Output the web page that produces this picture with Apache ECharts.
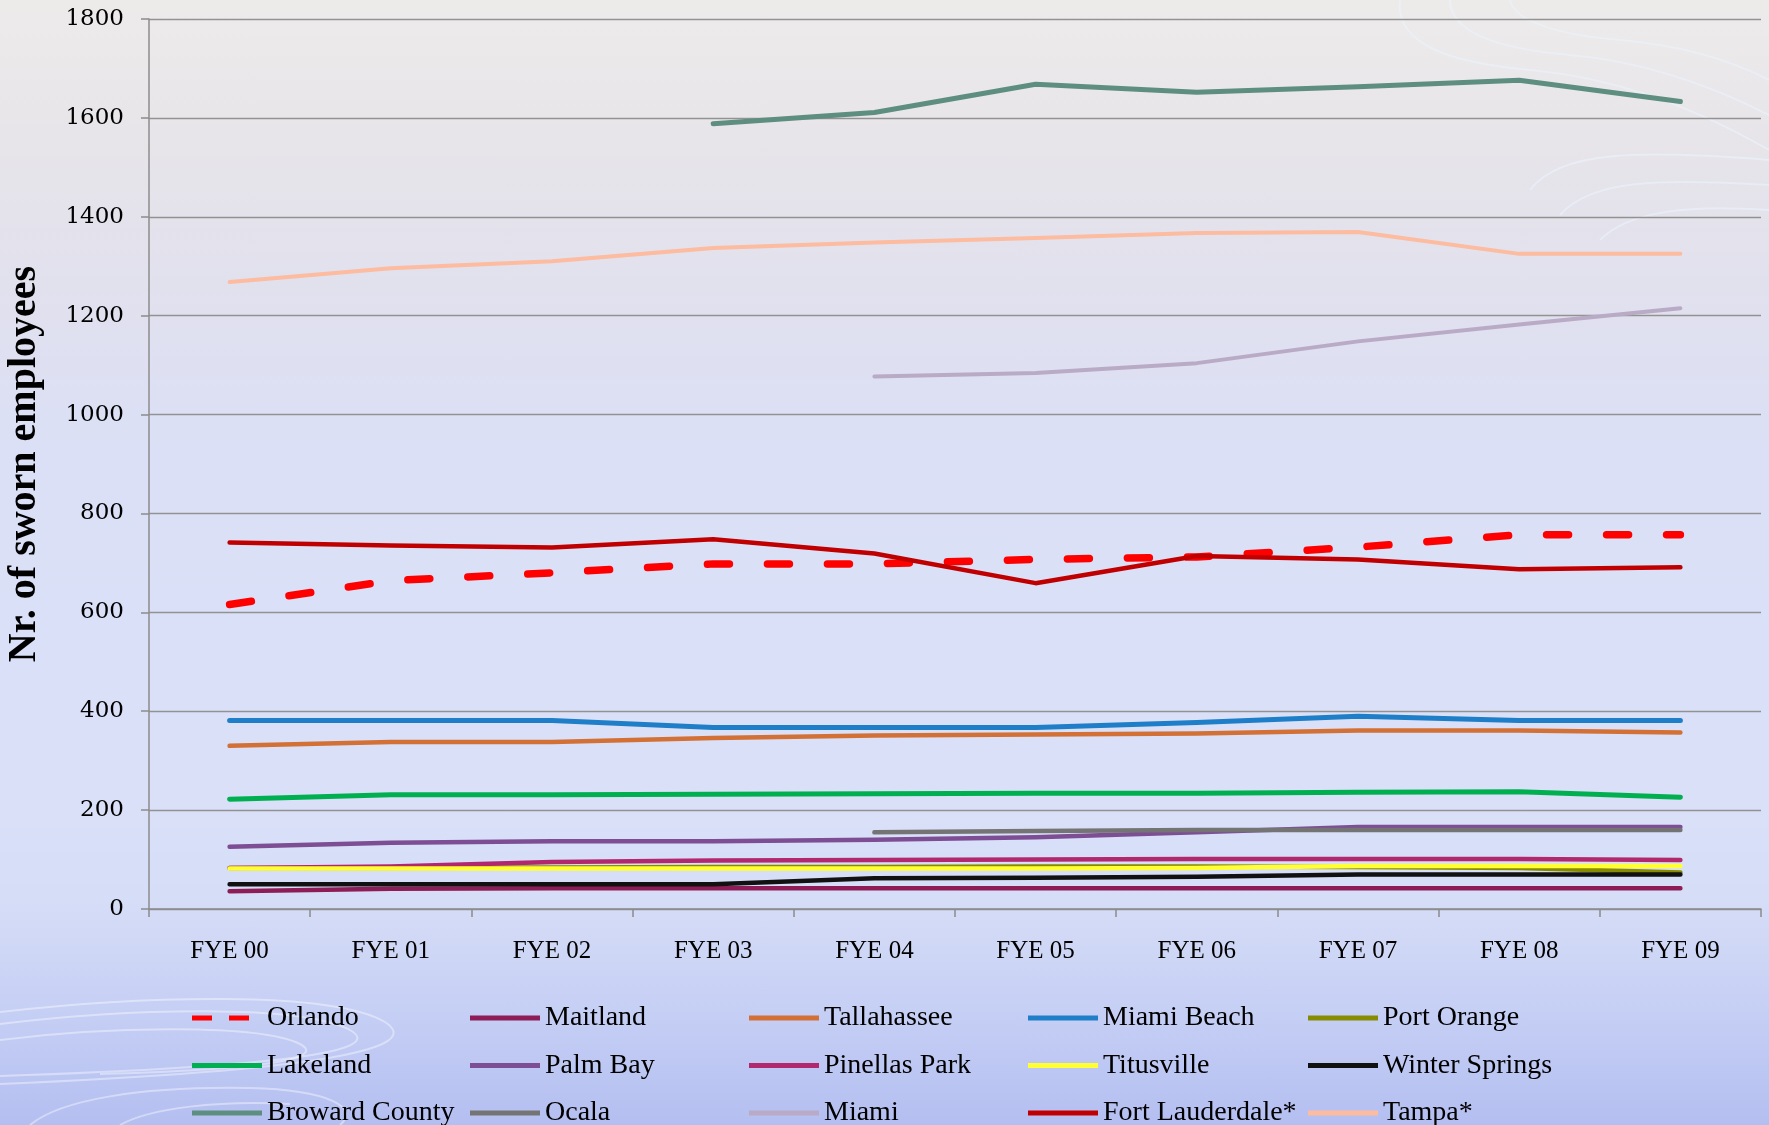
<!DOCTYPE html>
<html>
<head>
<meta charset="utf-8">
<script src="https://cdn.jsdelivr.net/npm/echarts@6.0.0/dist/echarts.min.js"></script>
<style>
  html, body { margin: 0; padding: 0; }
  body {
    width: 1769px; height: 1125px; overflow: hidden;
    background: linear-gradient(to bottom, #edebea 0%, #e7e5e9 12%, #e0e0ef 28%, #dbe0f6 40%, #d9e0f8 72%, #d6ddf7 80%, #c9d2f5 88%, #b4bff1 100%);
  }
  #chart { width: 1769px; height: 1125px; }
</style>
</head>
<body>
<div id="chart"></div>
<script>
const categories = ['FYE 00','FYE 01','FYE 02','FYE 03','FYE 04','FYE 05','FYE 06','FYE 07','FYE 08','FYE 09'];
const yTicks = { min: 0, max: 1800, interval: 200 };

const orlando        = [616, 664, 680, 698, 698, 707, 712, 732, 757, 757];
const maitland       = [36, 41, 42, 42, 42, 42, 42, 42, 42, 42];
const tallahassee    = [330, 338, 338, 346, 351, 353, 355, 361, 361, 357];
const miamiBeach     = [381, 381, 381, 367, 367, 367, 377, 390, 381, 381];
const portOrange     = [83, 83, 84, 85, 85, 86, 86, 85, 83, 74];
const lakeland       = [222, 231, 231, 232, 233, 234, 234, 236, 237, 226];
const palmBay        = [126, 134, 137, 137, 140, 145, 155, 166, 166, 166];
const pinellasPark   = [83, 86, 95, 98, 99, 100, 101, 101, 101, 99];
const titusville     = [82, 82, 82, 82, 82, 82, 83, 87, 87, 87];
const winterSprings  = [50, 50, 50, 50, 62, 63, 65, 70, 70, 70];
const browardCounty  = [null, null, null, 1588, 1611, 1668, 1652, 1663, 1676, 1633];
const ocala          = [null, null, null, null, 155, 158, 160, 160, 160, 160];
const miami          = [null, null, null, null, 1077, 1084, 1104, 1148, 1182, 1215];
const fortLauderdale = [741, 735, 731, 748, 719, 659, 714, 707, 687, 691];
const tampa          = [1268, 1296, 1310, 1337, 1348, 1357, 1367, 1369, 1325, 1325];

const seriesDefs = [
  { name: 'Orlando', data: orlando, color: '#ff0000', width: 7.5, dash: [22, 38] },
  { name: 'Maitland', data: maitland, color: '#8e1d57', width: 4.5 },
  { name: 'Tallahassee', data: tallahassee, color: '#d37035', width: 4.5 },
  { name: 'Miami Beach', data: miamiBeach, color: '#1f7ec8', width: 5 },
  { name: 'Port Orange', data: portOrange, color: '#868b00', width: 4.5 },
  { name: 'Lakeland', data: lakeland, color: '#00b050', width: 5 },
  { name: 'Palm Bay', data: palmBay, color: '#7d4e94', width: 4.5 },
  { name: 'Pinellas Park', data: pinellasPark, color: '#b1286f', width: 4.5 },
  { name: 'Titusville', data: titusville, color: '#ffff33', width: 4.5 },
  { name: 'Winter Springs', data: winterSprings, color: '#111111', width: 4.5 },
  { name: 'Broward County', data: browardCounty, color: '#5e8e80', width: 5 },
  { name: 'Ocala', data: ocala, color: '#747474', width: 4.5 },
  { name: 'Miami', data: miami, color: '#b9aac6', width: 4 },
  { name: 'Fort Lauderdale*', data: fortLauderdale, color: '#c00000', width: 4.5 },
  { name: 'Tampa*', data: tampa, color: '#fdbba0', width: 4 }
];

const series = seriesDefs.map(d => ({
  name: d.name,
  type: 'line',
  data: d.data,
  symbol: 'none',
  showSymbol: false,
  connectNulls: false,
  color: d.color,
  itemStyle: { color: d.color },
  lineStyle: { color: d.color, width: d.width, type: d.dash || 'solid', cap: 'round', join: 'round' },
  emphasis: { disabled: true },
  animation: false
}));

const solidIcon = 'path://M0,0H70V5H0Z';
const dashIcon = 'path://M0,0H20V5H0Z M37,0H57V5H37Z M70,0L70,0.001L69.999,0Z';

const colLefts = [192, 470, 749, 1028, 1308];
const legends = [];
for (let c = 0; c < 5; c++) {
  const items = [];
  for (let r = 0; r < 3; r++) {
    const d = seriesDefs[r * 5 + c];
    items.push({ name: d.name, icon: d.dash ? dashIcon : solidIcon, itemStyle: { color: d.color, borderWidth: 0 } });
  }
  legends.push({
    orient: 'vertical',
    left: colLefts[c],
    top: 1004,
    height: 200,
    itemWidth: 70,
    itemHeight: 5,
    itemGap: 19.5,
    selectedMode: false,
    padding: 0,
    textStyle: { fontFamily: 'Liberation Serif', fontSize: 28, color: '#000', lineHeight: 26 },
    data: items
  });
}

// decorative background swirls (cubic segments: x1,y1,cx1,cy1,cx2,cy2,x2,y2)
const swirlSegments = [
  [0,1012, 140,996, 330,990, 385,1022], [385,1022, 425,1048, 330,1070, 0,1084],
  [0,1024, 130,1008, 300,1004, 350,1030], [350,1030, 385,1050, 300,1066, 0,1076],
  [0,1040, 110,1026, 260,1024, 300,1044], [300,1044, 330,1060, 250,1070, 100,1074],
  [30,1125, 60,1100, 140,1086, 250,1088], [250,1088, 330,1090, 360,1108, 340,1125],
  [120,1125, 150,1108, 220,1100, 290,1104],
  [1400,0, 1395,40, 1440,62, 1530,70], [1530,70, 1620,78, 1700,110, 1769,150],
  [1450,0, 1450,30, 1490,48, 1570,55], [1570,55, 1650,62, 1720,90, 1769,115],
  [1510,0, 1515,22, 1560,35, 1620,40], [1620,40, 1690,46, 1740,65, 1769,80],
  [1530,190, 1560,150, 1640,150, 1769,160],
  [1560,215, 1590,180, 1660,178, 1769,185],
  [1600,240, 1630,210, 1690,205, 1769,210]
];
const deco = swirlSegments.map(s => ({
  type: 'bezierCurve', silent: true, z: -1,
  shape: { x1: s[0], y1: s[1], cpx1: s[2], cpy1: s[3], cpx2: s[4], cpy2: s[5], x2: s[6], y2: s[7] },
  style: { fill: null, stroke: s[1] > 900 || s[7] > 900 ? 'rgba(255,255,255,0.4)' : 'rgba(235,245,255,0.5)', lineWidth: 2 }
}));

const chart = echarts.init(document.getElementById('chart'), null, { renderer: 'canvas' });
chart.setOption({
  backgroundColor: 'transparent',
  animation: false,
  graphic: { elements: deco },
  grid: { left: 149, right: 8, top: 19, bottom: 216, containLabel: false, outerBoundsMode: 'none' },
  legend: legends,
  xAxis: {
    type: 'category',
    data: categories,
    boundaryGap: true,
    axisLine: { lineStyle: { color: '#8c8c8c', width: 1.5 } },
    axisTick: { show: true, length: 8, lineStyle: { color: '#8c8c8c', width: 1.5 } },
    axisLabel: { margin: 30, fontFamily: 'Liberation Serif', fontSize: 25, color: '#000' }
  },
  yAxis: {
    type: 'value',
    min: yTicks.min, max: yTicks.max, interval: yTicks.interval,
    name: 'Nr. of sworn employees',
    nameLocation: 'middle',
    nameGap: 104,
    nameRotate: 90,
    nameTextStyle: { fontFamily: 'Liberation Serif', fontWeight: 'bold', fontSize: 40, color: '#000' },
    axisLine: { show: true, lineStyle: { color: '#8c8c8c', width: 1.5 } },
    axisTick: { show: true, length: 8, lineStyle: { color: '#8c8c8c', width: 1.5 } },
    splitLine: { show: true, lineStyle: { color: '#929292', width: 1.3 } },
    axisLabel: { margin: 25, fontFamily: 'DejaVu Serif', fontSize: 23, color: '#000', formatter: v => String(v) }
  },
  series: series
});
</script>
</body>
</html>
